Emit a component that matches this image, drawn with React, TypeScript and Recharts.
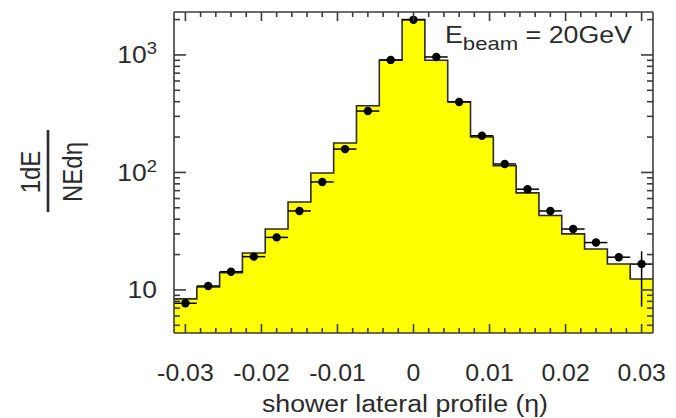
import React from "react";
import { ComposedChart, Area, Scatter, ErrorBar, XAxis, YAxis, ReferenceLine } from "recharts";

// bin centres (eta) and bin edges of the histogram
const binCenters = [
  -0.03, -0.027, -0.024, -0.021, -0.018, -0.015, -0.012, -0.009, -0.006, -0.003, 0,
  0.003, 0.006, 0.009, 0.012, 0.015, 0.018, 0.021, 0.024, 0.027, 0.03,
];
const binEdges = [
  -0.0315, -0.0285, -0.0255, -0.0225, -0.0195, -0.0165, -0.0135, -0.0105, -0.0075, -0.0045, -0.0015,
  0.0015, 0.0045, 0.0075, 0.0105, 0.0135, 0.0165, 0.0195, 0.0225, 0.0255, 0.0285, 0.0315,
];

// simulation (yellow histogram)
const simValues = [
  8.4, 10.6, 14, 20.6, 33, 56, 99, 178, 370, 900, 2000,
  900, 400, 200, 114, 67, 43, 30, 22.3, 16.6, 12.4,
];

// data points
const dataValues = [
  7.7, 10.8, 14.3, 19.2, 28, 47, 83, 158, 333, 907, 1990,
  961, 398, 205, 118, 72, 47, 33, 25.3, 19, 16.6,
];
const dataErrLow = [
  0, 0, 0, 0, 0, 0, 0, 0, 0, 0, 0,
  0, 0, 0, 0, 0, 0, 0, 0, 0.6, 9.4,
];
const dataErrHigh = [
  0, 0, 0, 0, 0, 0, 0, 0, 0, 0, 0,
  0, 0, 0, 0, 0, 0, 0, 0, 0.6, 4.7,
];
const halfBin = 0.0015;

const xMajorTicks = [-0.03, -0.02, -0.01, 0, 0.01, 0.02, 0.03];
const xTickLabels = ["-0.03", "-0.02", "-0.01", "0", "0.01", "0.02", "0.03"];
const xMinorTicks = [
  -0.028, -0.026, -0.024, -0.022, -0.018, -0.016, -0.014, -0.012,
  -0.008, -0.006, -0.004, -0.002, 0.002, 0.004, 0.006, 0.008,
  0.012, 0.014, 0.016, 0.018, 0.022, 0.024, 0.026, 0.028,
];
const yMajorTicks = [10, 100, 1000];
const yTickExponents = ["", "2", "3"];
const yMinorTicks = [
  5, 6, 7, 8, 9, 20, 30, 40, 50, 60, 70, 80, 90,
  200, 300, 400, 500, 600, 700, 800, 900, 2000,
];

const X_MIN = -0.0315;
const X_MAX = 0.0315;
const Y_MIN = 4.3;
const Y_MAX = 2320;

const FONT = "'Liberation Sans', Arial, sans-serif";
const FRAME = "#3c3c3c";
const INK = "#2b2b2b";
const MARGIN = { top: 12, right: 22, bottom: 45, left: 114 };

const histData = binEdges.map((x, i) => ({
  x,
  h: simValues[Math.min(i, simValues.length - 1)],
}));

const points = binCenters.map((x, i) => ({
  x,
  y: dataValues[i],
  ex: halfBin,
  ey: [dataErrLow[i], dataErrHigh[i]],
}));

const allXTicks = [...xMajorTicks, ...xMinorTicks].sort((a, b) => a - b);
const allYTicks = [...yMinorTicks, ...yMajorTicks].sort((a, b) => a - b);

const xMajorIndex = (v: number) => xMajorTicks.findIndex((t) => Math.abs(t - v) < 1e-9);

// bottom axis: ticks at the bottom and mirrored ones at the top of the frame
function bottomTick(props: any) {
  const x = Number(props.x);
  const y = Number(props.y);
  const idx = xMajorIndex(props.payload.value);
  const major = idx >= 0;
  const len = major ? 9 : 5;
  const top = MARGIN.top;
  return (
    <g>
      <path d={`M${x},${y}V${y - len}M${x},${top}V${top + len}`} stroke={FRAME} strokeWidth={1.6} fill="none" />
      {major && (
        <text
          transform={`translate(${x},${y + 48}) scale(1.08,1)`}
          textAnchor="middle"
          fontFamily={FONT}
          fontSize={23}
          fill={INK}
        >
          {xTickLabels[idx]}
        </text>
      )}
    </g>
  );
}

function leftTick(props: any) {
  const x = Number(props.x);
  const y = Number(props.y);
  const idx = yMajorTicks.indexOf(props.payload.value);
  const major = idx >= 0;
  return (
    <g>
      <path d={`M${x},${y}H${x + (major ? 12 : 6)}`} stroke={FRAME} strokeWidth={1.6} fill="none" />
      {major && (
        <text
          transform={`translate(${x - 17},${y + 8.5}) scale(1.15,1)`}
          textAnchor="end"
          fontFamily={FONT}
          fontSize={23}
          fill={INK}
        >
          10
          {yTickExponents[idx] && (
            <tspan fontSize={16} dy={-9}>
              {yTickExponents[idx]}
            </tspan>
          )}
        </text>
      )}
    </g>
  );
}

function rightTick(props: any) {
  const x = Number(props.x);
  const y = Number(props.y);
  const major = yMajorTicks.includes(props.payload.value);
  return <path d={`M${x},${y}H${x - (major ? 12 : 6)}`} stroke={FRAME} strokeWidth={1.6} fill="none" />;
}

const dot = (p: any) => <circle cx={p.cx} cy={p.cy} r={4.2} fill="#000" />;

export default function App() {
  return (
    <div style={{ position: "absolute", left: 0, top: 0, width: 676, height: 418 }}>
      <ComposedChart width={676} height={418} data={histData} margin={MARGIN}>
        <Area
          type="stepAfter"
          dataKey="h"
          baseValue={Y_MIN}
          stroke={INK}
          strokeWidth={1.6}
          fill="#ffff00"
          fillOpacity={1}
          dot={false}
          activeDot={false}
          isAnimationActive={false}
        />
        <Scatter data={points} dataKey="y" shape={dot} isAnimationActive={false}>
          <ErrorBar dataKey="ex" direction="x" width={0} stroke="#000" strokeWidth={1.5} />
          <ErrorBar dataKey="ey" direction="y" width={0} stroke="#000" strokeWidth={1.5} />
        </Scatter>
        <ReferenceLine y={Y_MAX} stroke={FRAME} strokeWidth={1.6} ifOverflow="extendDomain" />
        <XAxis
          dataKey="x"
          type="number"
          domain={[X_MIN, X_MAX]}
          allowDataOverflow
          ticks={allXTicks}
          interval={0}
          tick={(p: any) => bottomTick(p)}
          tickSize={0}
          tickMargin={0}
          tickLine={false}
          height={40}
          axisLine={{ stroke: FRAME, strokeWidth: 1.6 }}
        />
        <YAxis
          type="number"
          scale="log"
          domain={[Y_MIN, Y_MAX]}
          allowDataOverflow
          ticks={allYTicks}
          interval={0}
          tick={(p: any) => leftTick(p)}
          tickSize={0}
          tickMargin={0}
          tickLine={false}
          width={60}
          axisLine={{ stroke: FRAME, strokeWidth: 1.6 }}
        />
        <YAxis
          yAxisId="right"
          orientation="right"
          type="number"
          scale="log"
          domain={[Y_MIN, Y_MAX]}
          allowDataOverflow
          ticks={allYTicks}
          interval={0}
          tick={(p: any) => rightTick(p)}
          tickSize={0}
          tickMargin={0}
          tickLine={false}
          width={1}
          axisLine={{ stroke: FRAME, strokeWidth: 1.6 }}
        />
      </ComposedChart>
      <svg
        width={676}
        height={418}
        style={{ position: "absolute", left: 0, top: 0, pointerEvents: "none" }}
      >
        <text
          x={445}
          y={43}
          fontFamily={FONT}
          fontSize={23}
          fill={INK}
          textLength={187}
          lengthAdjust="spacingAndGlyphs"
        >
          E
          <tspan fontSize={19} dy={7}>
            beam
          </tspan>
          <tspan dy={-7}> = 20GeV</tspan>
        </text>
        <text
          x={405}
          y={412}
          textAnchor="middle"
          fontFamily={FONT}
          fontSize={23}
          fill={INK}
          textLength={286}
          lengthAdjust="spacingAndGlyphs"
        >
          shower lateral profile (η)
        </text>
        <text
          transform="translate(39.5,172) rotate(-90) scale(1,1.13)"
          textAnchor="middle"
          fontFamily={FONT}
          fontSize={24}
          fill={INK}
        >
          1dE
        </text>
        <line x1={48} x2={48} y1={130} y2={212} stroke={INK} strokeWidth={2.6} />
        <text
          transform="translate(82,172) rotate(-90) scale(1,1.13)"
          textAnchor="middle"
          fontFamily={FONT}
          fontSize={24}
          fill={INK}
        >
          NEdη
        </text>
      </svg>
    </div>
  );
}
